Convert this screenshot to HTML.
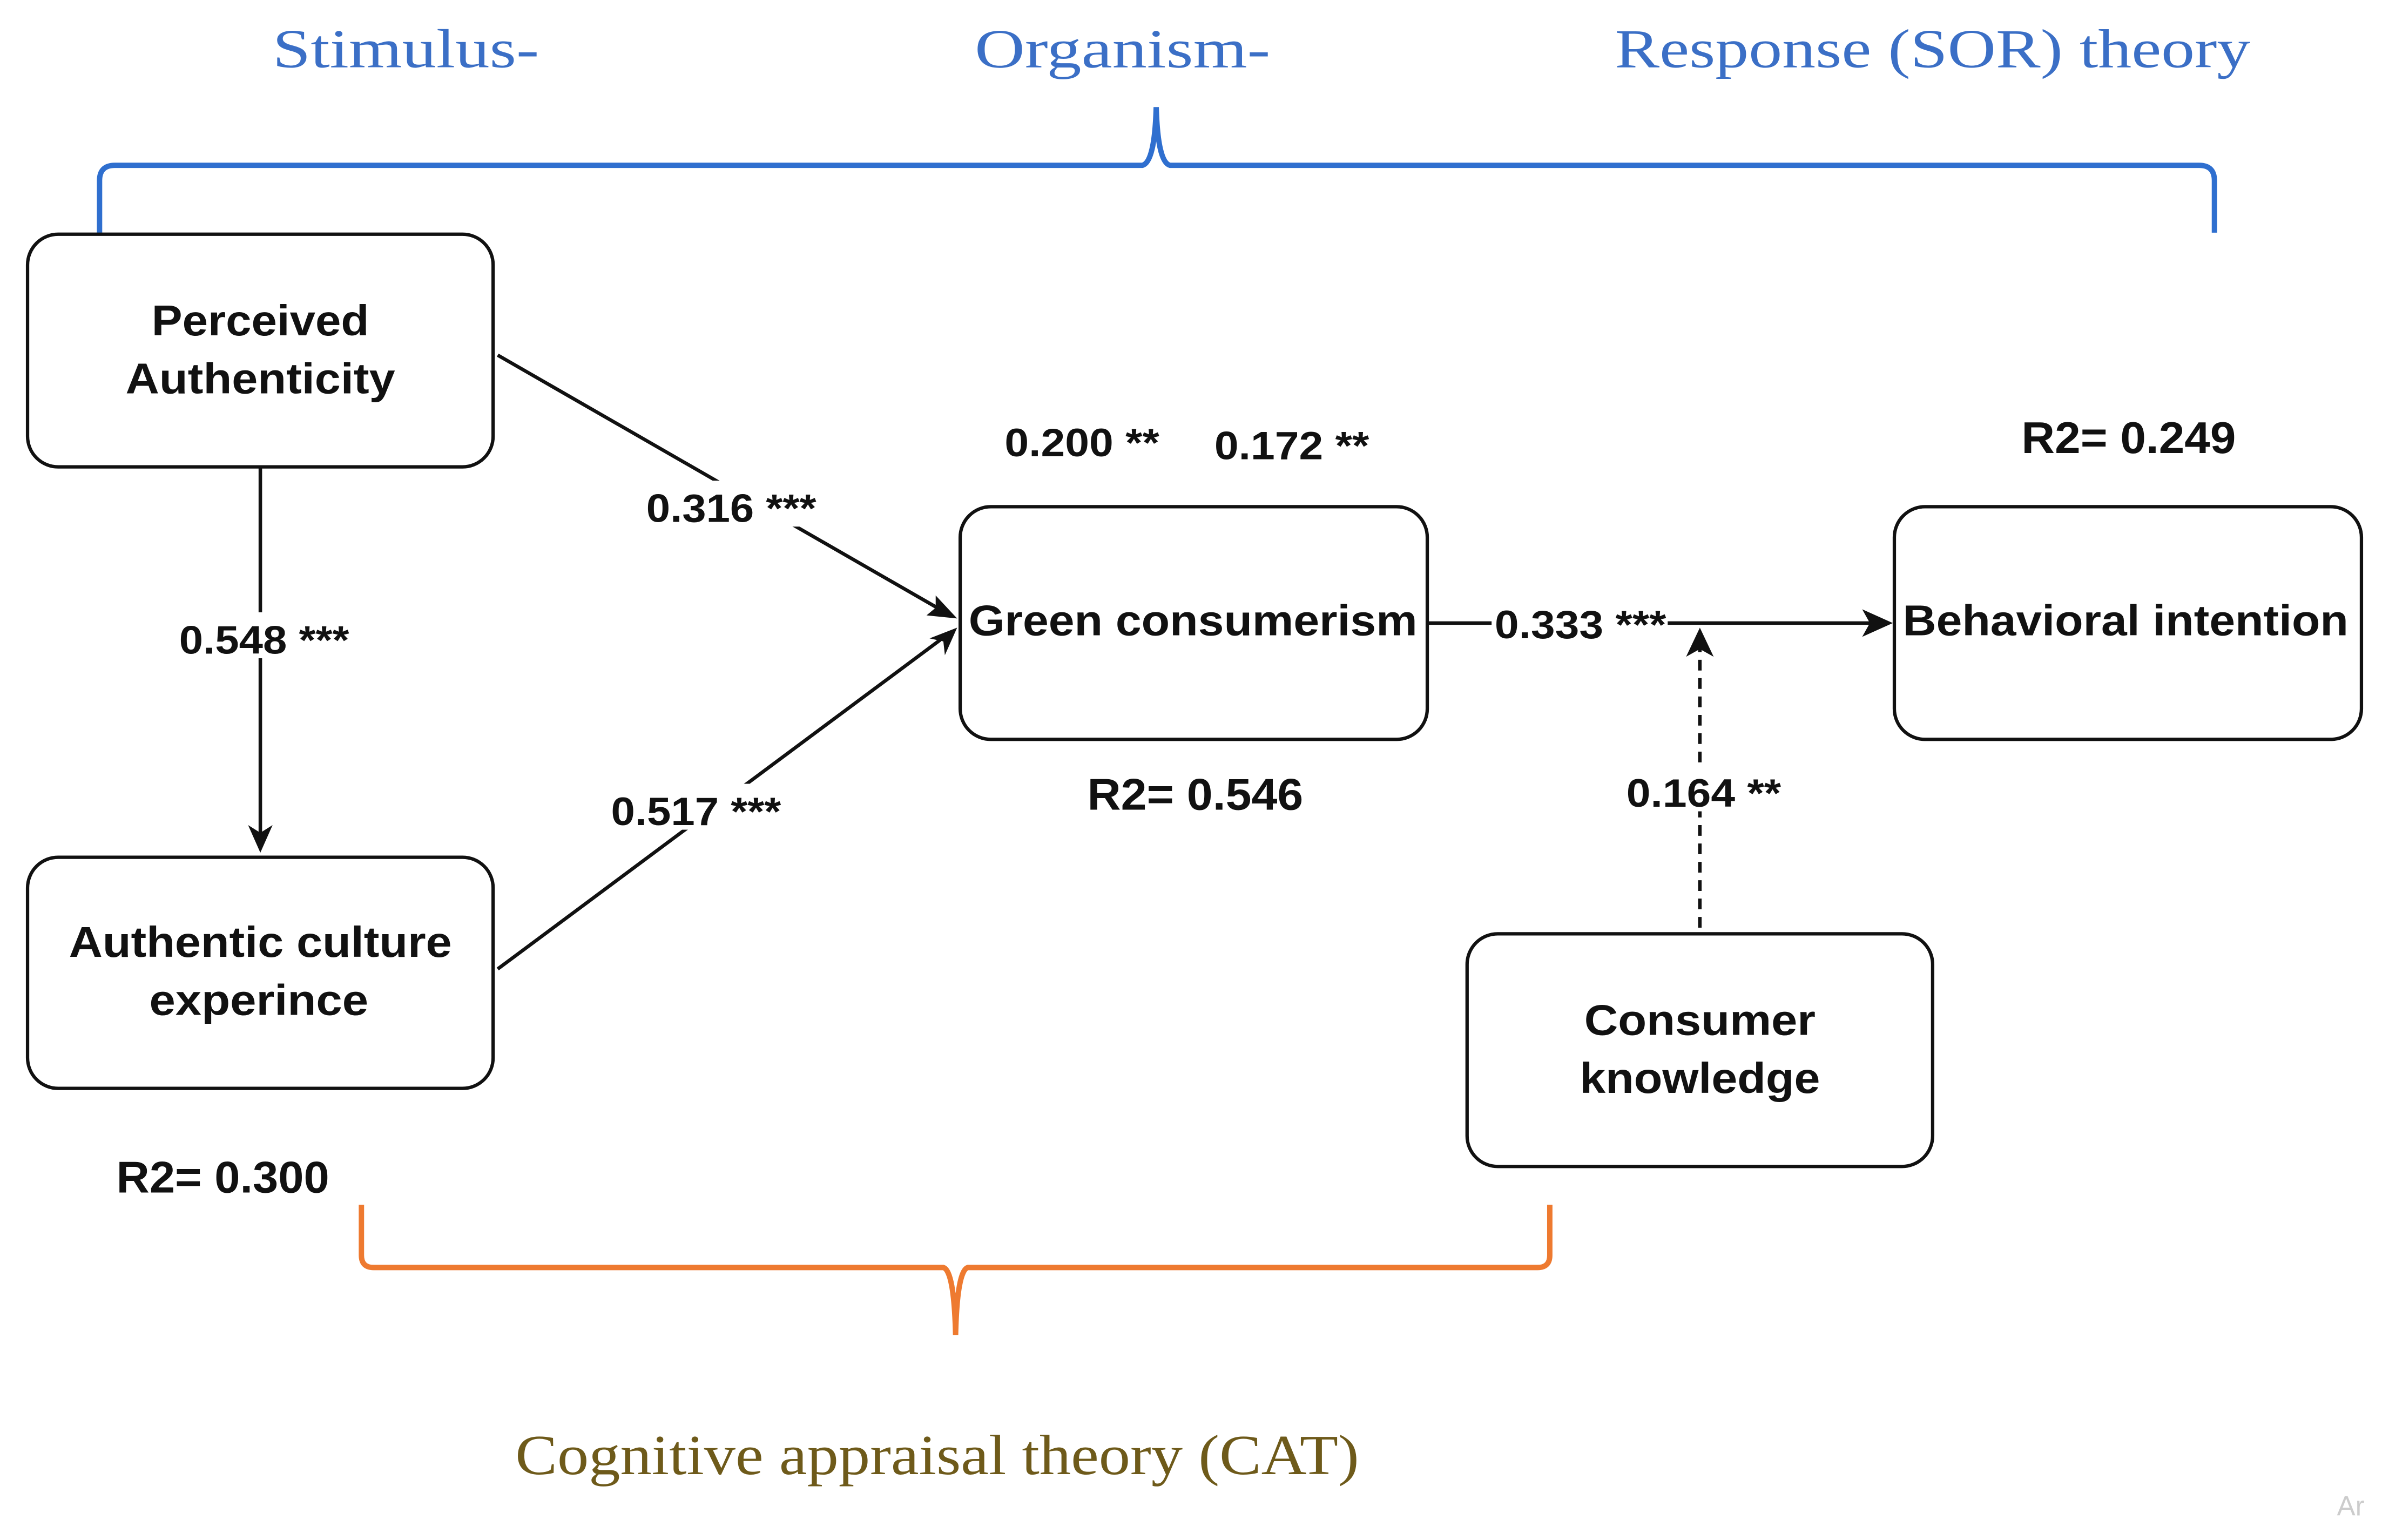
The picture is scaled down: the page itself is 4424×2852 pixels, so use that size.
<!DOCTYPE html>
<html><head><meta charset="utf-8"><style>
html,body{margin:0;padding:0;background:#fff;}
svg{display:block;}
.t{font-family:"Liberation Serif",serif;}
.b{font-family:"Liberation Sans",sans-serif;font-weight:bold;fill:#111;}
</style></head><body>
<svg width="4424" height="2852" viewBox="0 0 1560 1006" preserveAspectRatio="none" xmlns="http://www.w3.org/2000/svg">
<rect width="1560" height="1006" fill="#fff"/>
<text class="t" x="265" y="44" font-size="36" fill="#3b6fc6" text-anchor="middle" textLength="174" lengthAdjust="spacingAndGlyphs">Stimulus-</text>
<text class="t" x="733" y="44" font-size="36" fill="#3b6fc6" text-anchor="middle" textLength="193" lengthAdjust="spacingAndGlyphs">Organism-</text>
<text class="t" x="1262" y="44" font-size="36" fill="#3b6fc6" text-anchor="middle" textLength="415" lengthAdjust="spacingAndGlyphs">Response (SOR) theory</text>
<path d="M65,152 L65,118 Q65,108 75,108 L746,108 Q754,106 755,70 Q756,106 764,108 L1436,108 Q1446,108 1446,118 L1446,152" fill="none" stroke="#2f6fcf" stroke-width="3.5"/>
<path d="M236,787 L236,820 Q236,828 244,828 L616,828 Q623,830 624,872 Q625,830 632,828 L1004,828 Q1012,828 1012,820 L1012,787" fill="none" stroke="#ee7a30" stroke-width="3.5"/>
<text class="t" x="612" y="963" font-size="37" fill="#6e5a1a" text-anchor="middle" textLength="551" lengthAdjust="spacingAndGlyphs">Cognitive appraisal theory (CAT)</text>
<g fill="#fff" stroke="#111" stroke-width="2.2">
<rect x="18" y="153" width="304" height="152" rx="20"/>
<rect x="18" y="560" width="304" height="151" rx="20"/>
<rect x="627" y="331" width="305" height="152" rx="20"/>
<rect x="1237" y="331" width="305" height="152" rx="20"/>
<rect x="958" y="610" width="304" height="152" rx="20"/>
</g>
<g stroke="#111" stroke-width="2.3" fill="none">
<line x1="170" y1="305" x2="170" y2="548"/>
<line x1="325" y1="232" x2="612" y2="397"/>
<line x1="325" y1="633" x2="614" y2="418"/>
<line x1="932" y1="407" x2="1222" y2="407"/>
<line x1="1110" y1="606" x2="1110" y2="424" stroke-dasharray="7,5"/>
</g>
<g fill="#111">
<path d="M170,557 L162,539 L170,544 L178,539 Z"/>
<path d="M625,404 L605,402 L611,397 L611,389 Z" transform="rotate(0)"/>
<path d="M625,410 L617,428 L616,419 L607,417 Z"/>
<path d="M1236,407 L1216,398 L1221,407 L1216,416 Z"/>
<path d="M1110,410 L1101,429 L1110,424 L1119,429 Z"/>
</g>
<g fill="#fff">
<rect x="114" y="400" width="118" height="30"/>
<rect x="419" y="314" width="118" height="30"/>
<rect x="396" y="512" width="118" height="30"/>
<rect x="974" y="395" width="115" height="26"/>
<rect x="1060" y="500" width="106" height="30"/>
</g>
<g class="b" font-size="28" text-anchor="middle">
<text x="170" y="219" textLength="142" lengthAdjust="spacingAndGlyphs">Perceived</text>
<text x="170" y="257" textLength="176" lengthAdjust="spacingAndGlyphs">Authenticity</text>
<text x="170" y="625" textLength="250" lengthAdjust="spacingAndGlyphs">Authentic culture</text>
<text x="169" y="663" textLength="143" lengthAdjust="spacingAndGlyphs">experince</text>
<text x="779" y="415" textLength="293" lengthAdjust="spacingAndGlyphs">Green consumerism</text>
<text x="1388" y="415" textLength="291" lengthAdjust="spacingAndGlyphs">Behavioral intention</text>
<text x="1110" y="676" textLength="151" lengthAdjust="spacingAndGlyphs">Consumer</text>
<text x="1110" y="714" textLength="157" lengthAdjust="spacingAndGlyphs">knowledge</text>
</g>
<g class="b" font-size="26">
<text x="117" y="427" textLength="111" lengthAdjust="spacingAndGlyphs">0.548 ***</text>
<text x="422" y="341" textLength="111" lengthAdjust="spacingAndGlyphs">0.316 ***</text>
<text x="399" y="539" textLength="111" lengthAdjust="spacingAndGlyphs">0.517 ***</text>
<text x="976" y="417" textLength="112" lengthAdjust="spacingAndGlyphs">0.333 ***</text>
<text x="1062" y="527" textLength="101" lengthAdjust="spacingAndGlyphs">0.164 **</text>
<text x="656" y="298" textLength="101" lengthAdjust="spacingAndGlyphs">0.200 **</text>
<text x="793" y="300" textLength="101" lengthAdjust="spacingAndGlyphs">0.172 **</text>
<text x="1320" y="296" font-size="29" textLength="140" lengthAdjust="spacingAndGlyphs">R2= 0.249</text>
<text x="710" y="529" font-size="29" textLength="141" lengthAdjust="spacingAndGlyphs">R2= 0.546</text>
<text x="76" y="779" font-size="29" textLength="139" lengthAdjust="spacingAndGlyphs">R2= 0.300</text>
</g>
<text x="1526" y="990" font-family="Liberation Sans,sans-serif" font-size="18" fill="#ccc">Ar</text>
</svg>
</body></html>
